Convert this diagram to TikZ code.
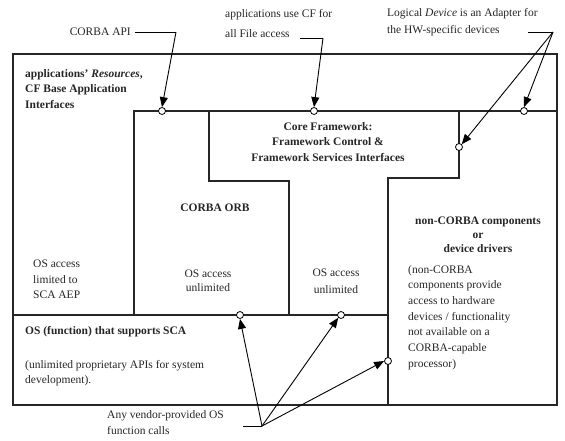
\documentclass[tikz,border=0pt]{standalone}
\usepackage{fontspec}
\setmainfont{Liberation Serif}
\usetikzlibrary{arrows.meta}
\begin{document}
\begin{tikzpicture}[x=1pt,y=-1pt,
  box/.style={line width=1.1pt, draw=black!85},
  port/.style={circle, draw=black, fill=white, line width=0.8pt, minimum size=7pt, inner sep=0pt},
  arr/.style={line width=0.9pt, color=black, -{Triangle[length=10pt,width=8pt]}},
  lead/.style={line width=0.9pt, color=black},
  txt/.style={inner sep=0pt, font=\fontsize{11.5}{15.5}\selectfont, text=black!85},
  btxt/.style={txt, font=\fontsize{11.5}{15.5}\selectfont\bfseries}
]
\useasboundingbox (0,0) rectangle (565,440);
% partition lines
\draw[box] (13,54) rectangle (557,405);
\draw[box] (134,315) -- (134,111) -- (557,111);
\draw[box] (209,111) -- (209,181) -- (289,181) -- (289,315);
\draw[box] (459,111) -- (459,178) -- (388,178) -- (388,405);
\draw[box] (13,315) -- (388,315);
% texts
\node[btxt, anchor=north west, align=left] (apps) at (25,69) {applications' \textit{Resources},\\CF Base Application\\Interfaces};
\node[btxt, align=center] (cf) at (328,142) {Core Framework:\\Framework Control \&\\Framework Services Interfaces};
\node[btxt] (orb) at (215,208) {CORBA ORB};
\node[btxt, align=center, font=\fontsize{11.5}{14}\selectfont\bfseries] (nc) at (478,235) {non-CORBA components\\or\\device drivers};
\node[txt, anchor=north west, align=left] (oslim) at (33,260) {OS access\\limited to\\SCA AEP};
\node[txt, align=center, font=\fontsize{11.5}{14}\selectfont] (osun1) at (208,281) {OS access\\unlimited};
\node[txt, align=center, font=\fontsize{11.5}{17}\selectfont] (osun2) at (336,281) {OS access\\unlimited};
\node[txt, anchor=north west, align=left, font=\fontsize{11.5}{15.7}\selectfont] (ncdesc) at (408,265) {(non-CORBA\\components provide\\access to hardware\\devices / functionality\\not available on a\\CORBA-capable\\processor)};
\node[btxt, anchor=west] (os) at (25,332) {OS (function) that supports SCA};
\node[txt, anchor=north west, align=left] (osdesc) at (25,360) {(unlimited proprietary APIs for system\\development).};
% callout labels
\node[txt, anchor=east] (capi) at (131,32) {CORBA API};
\node[txt, anchor=north west, align=left, font=\fontsize{11.5}{20}\selectfont] (cfuse) at (225,9) {applications use CF for\\all File access};
\node[txt, anchor=north west, align=left, font=\fontsize{11.5}{17}\selectfont] (logdev) at (387,8) {Logical \textit{Device} is an Adapter for\\the HW-specific devices};
\node[txt, anchor=north west, align=left, font=\fontsize{11.5}{16}\selectfont] (vendor) at (107,410) {Any vendor-provided OS\\function calls};
% ports
\node[port] (p1) at (162,111) {};
\node[port] (p2) at (314,111) {};
\node[port] (p3) at (524,111) {};
\node[port] (p4) at (459,147) {};
\node[port] (p5) at (240,315) {};
\node[port] (p6) at (341,315) {};
\node[port] (p7) at (388,361) {};
% leader corners
\coordinate (c1) at (176,32);
\coordinate (c2) at (323,38);
\coordinate (c3) at (553,32);
\coordinate (c4) at (262,426);
\draw[lead] (135,32) -- (c1);
\draw[arr] (c1) -- (p1.north);
\draw[lead] (300,38) -- (c2);
\draw[arr] (c2) -- (p2.north);
\draw[lead] (528,32) -- (c3);
\draw[arr] (c3) -- (p3.north);
\draw[arr] (c3) -- (p4.north east);
\draw[lead] (243,426) -- (c4);
\draw[arr] (c4) -- (p5.south);
\draw[arr] (c4) -- (p6.south west);
\draw[arr] (c4) -- (p7.west);
\end{tikzpicture}
\end{document}
